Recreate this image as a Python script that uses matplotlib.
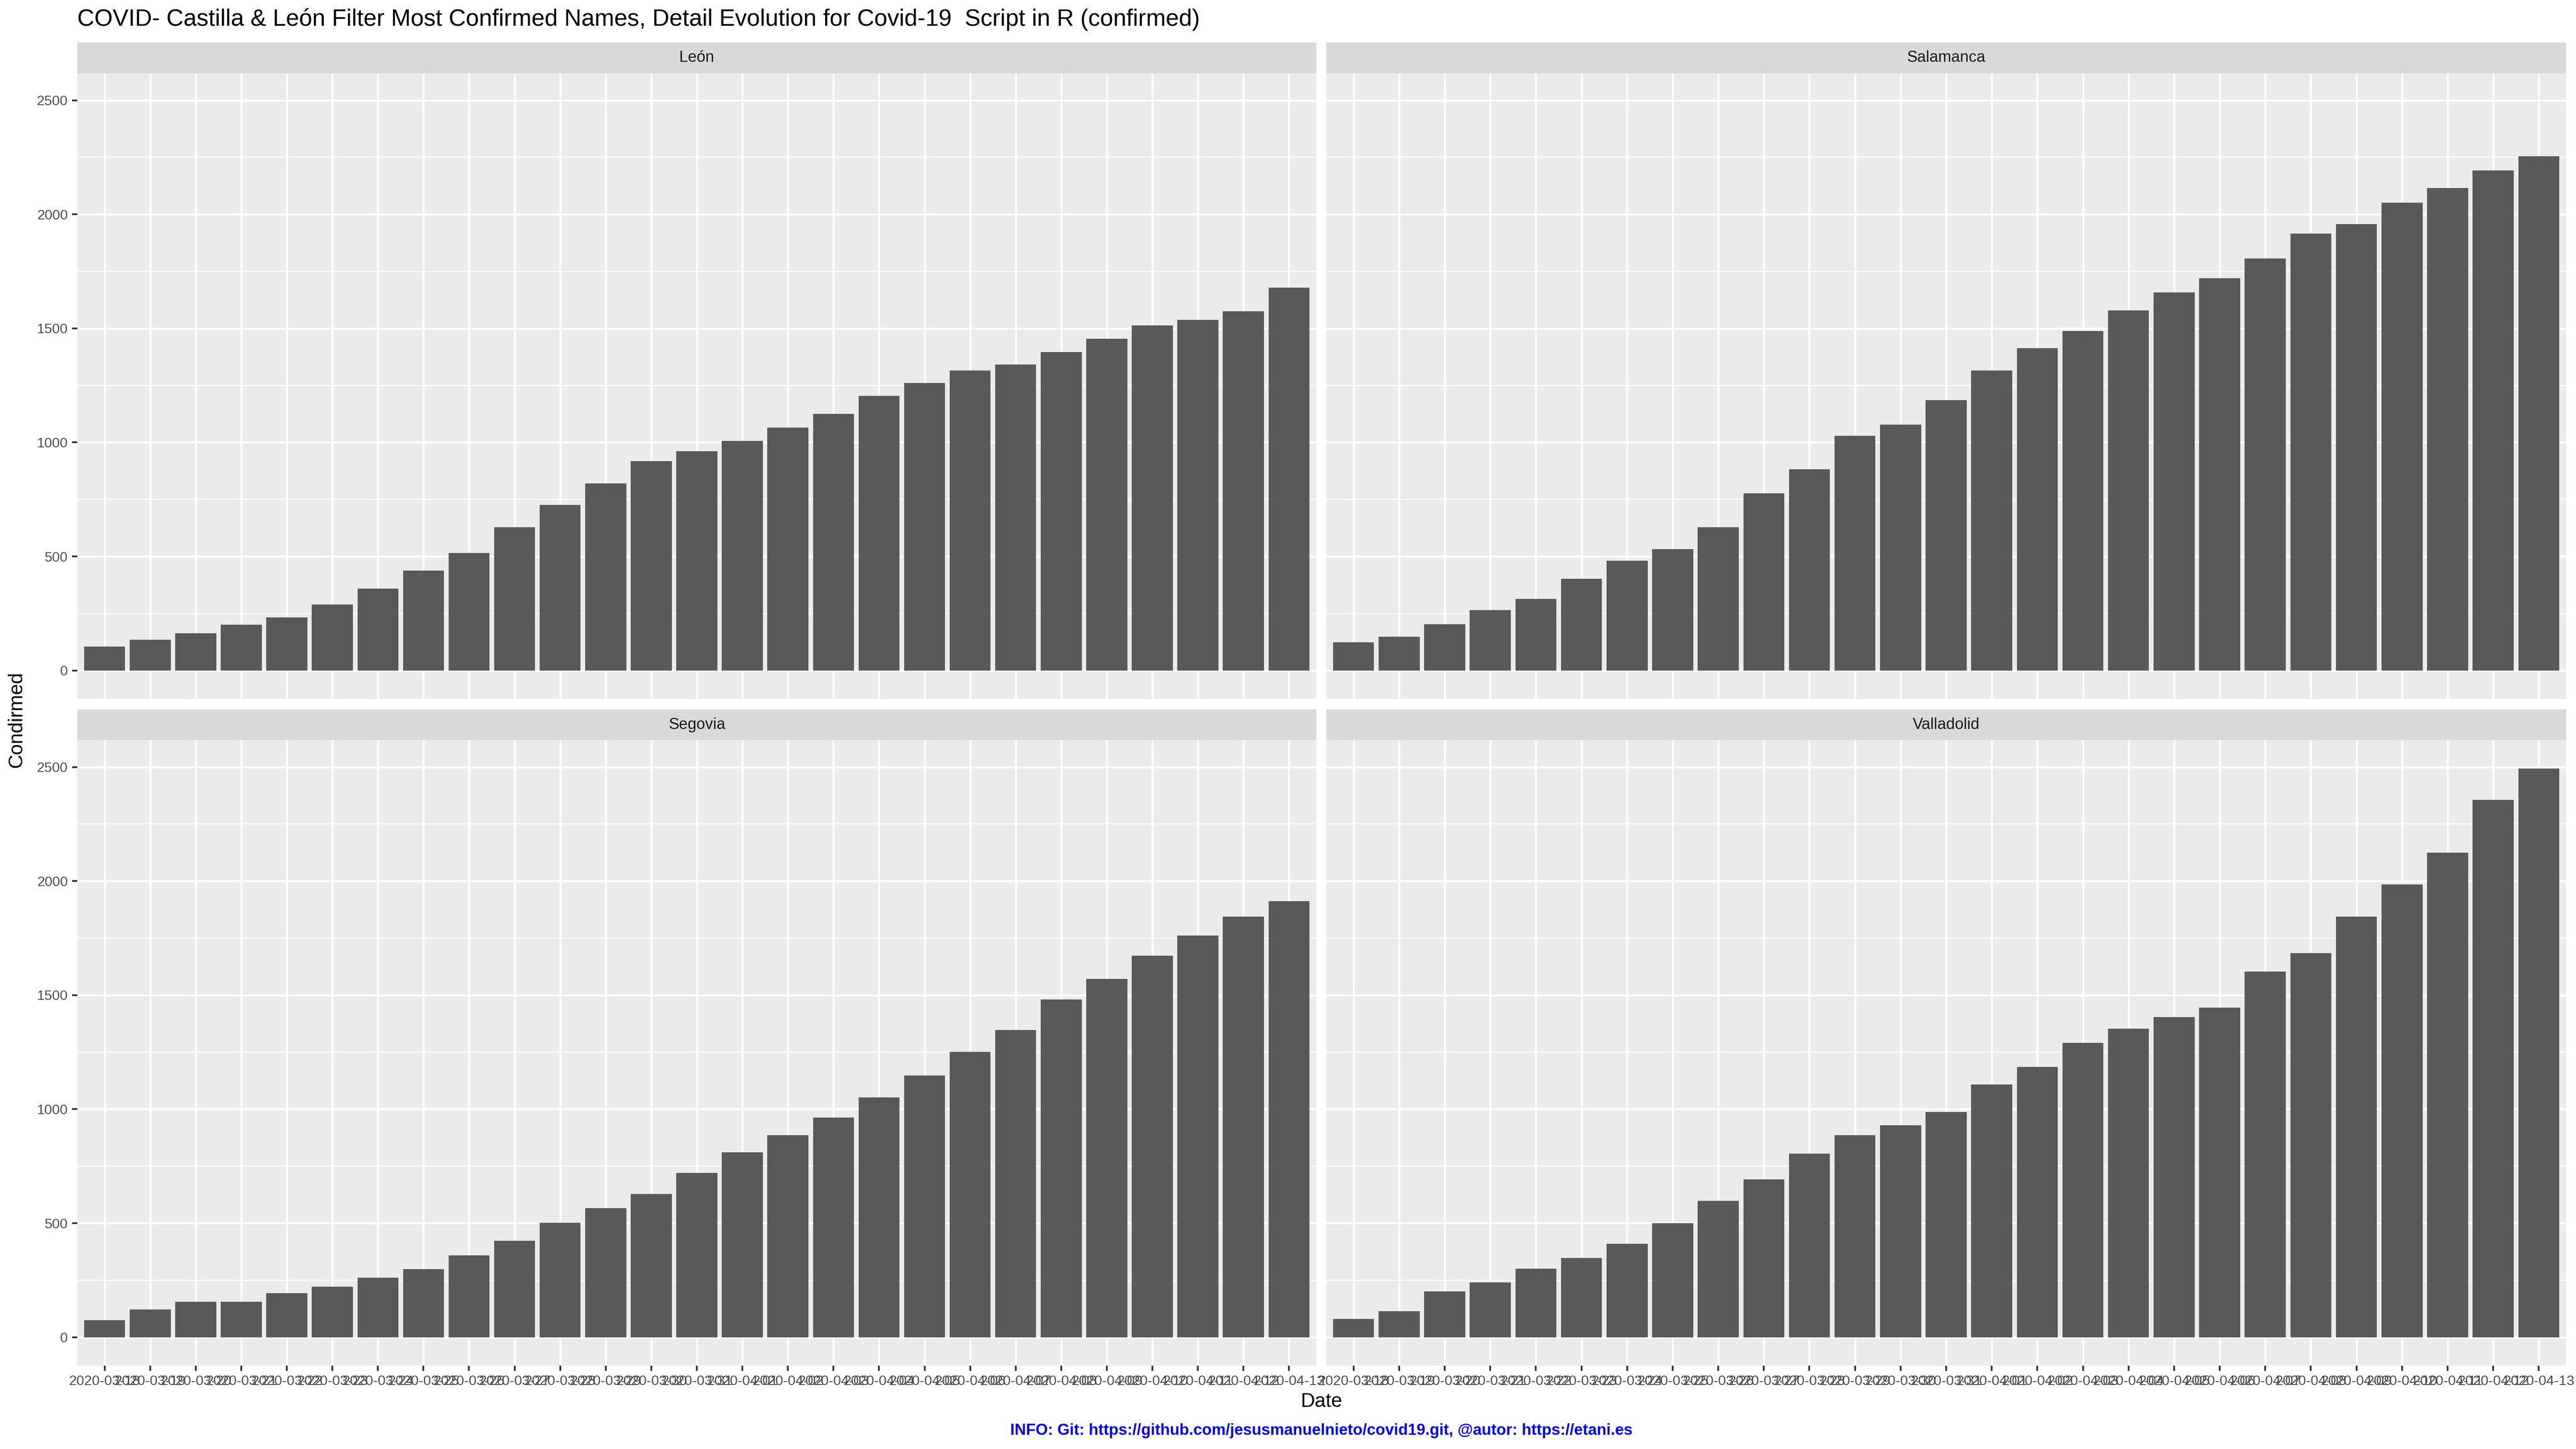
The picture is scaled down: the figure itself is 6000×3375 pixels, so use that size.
import matplotlib
matplotlib.use('Agg')
import matplotlib.pyplot as plt
from matplotlib.ticker import MultipleLocator

plt.rcParams['font.family'] = ['Liberation Sans', 'DejaVu Sans']

# fechas (eje x, discreto)
fechas = ['2020-03-18', '2020-03-19', '2020-03-20', '2020-03-21', '2020-03-22',
          '2020-03-23', '2020-03-24', '2020-03-25', '2020-03-26', '2020-03-27',
          '2020-03-28', '2020-03-29', '2020-03-30', '2020-03-31', '2020-04-01',
          '2020-04-02', '2020-04-03', '2020-04-04', '2020-04-05', '2020-04-06',
          '2020-04-07', '2020-04-08', '2020-04-09', '2020-04-10', '2020-04-11',
          '2020-04-12', '2020-04-13']

provincias = ['León', 'Salamanca', 'Segovia', 'Valladolid']

# confirmados por provincia
leon = [105, 135, 163, 201, 233, 289, 360, 439, 515, 629, 726, 820, 918, 962,
        1007, 1065, 1126, 1204, 1261, 1316, 1342, 1397, 1454, 1513, 1538, 1575, 1678]
salamanca = [124, 149, 202, 265, 314, 403, 481, 533, 629, 776, 882, 1030, 1078, 1186,
             1316, 1413, 1488, 1578, 1658, 1719, 1806, 1916, 1957, 2051, 2115, 2193, 2255]
segovia = [75, 121, 156, 156, 194, 222, 261, 298, 360, 423, 502, 566, 629, 721,
           810, 886, 964, 1051, 1147, 1252, 1348, 1481, 1571, 1673, 1761, 1845, 1912]
valladolid = [80, 114, 201, 240, 300, 348, 410, 501, 598, 692, 806, 886, 929, 987,
              1108, 1186, 1291, 1353, 1403, 1445, 1603, 1685, 1845, 1985, 2124, 2356, 2493]

series = [leon, salamanca, segovia, valladolid]

W, H = 6000, 3375
fig = plt.figure(figsize=(20, 11.25), dpi=300)

# posiciones de los paneles en pixeles (x0, x1), (y0, y1)
cols = [(180, 3066), (3089, 5977)]
rows = [(171, 1628), (1724, 3181)]
strip_h = 72

ymax = max(max(s) for s in series)
ylim = (-0.05 * ymax, 1.05 * ymax)

for i, (nombre, valores) in enumerate(zip(provincias, series)):
    r, c = divmod(i, 2)
    x0, x1 = cols[c]
    y0, y1 = rows[r]
    ax = fig.add_axes([x0 / W, 1 - y1 / H, (x1 - x0) / W, (y1 - y0) / H])
    ax.set_facecolor('#EBEBEB')
    ax.bar(range(len(fechas)), valores, width=0.9, color='#595959', zorder=2)
    ax.set_xlim(-0.6, len(fechas) - 0.4)
    ax.set_ylim(*ylim)
    ax.yaxis.set_major_locator(MultipleLocator(500))
    ax.yaxis.set_minor_locator(MultipleLocator(250))
    ax.set_xticks(range(len(fechas)))
    ax.grid(which='major', color='white', linewidth=1.08, zorder=1)
    ax.grid(which='minor', axis='y', color='white', linewidth=0.54, zorder=1)
    ax.set_axisbelow(True)
    for s in ax.spines.values():
        s.set_visible(False)
    ax.tick_params(which='minor', length=0)
    ax.tick_params(which='major', length=2.9, width=1.0, color='#333333',
                   labelcolor='#4D4D4D', labelsize=7.8, pad=2.4)
    if r == 1:
        ax.set_xticklabels(fechas)
    else:
        ax.tick_params(axis='x', length=0, labelbottom=False)
    if c == 1:
        ax.tick_params(axis='y', length=0, labelleft=False)

    # tira con el nombre de la provincia
    sax = fig.add_axes([x0 / W, 1 - y0 / H, (x1 - x0) / W, strip_h / H])
    sax.set_facecolor('#D9D9D9')
    sax.set_xticks([])
    sax.set_yticks([])
    for s in sax.spines.values():
        s.set_visible(False)
    sax.text(0.5, 0.5, nombre, ha='center', va='center', fontsize=8.8, color='#1A1A1A',
             transform=sax.transAxes)

fig.text(180 / W, 1 - 46 / H, 'COVID- Castilla & León Filter Most Confirmed Names, Detail Evolution for Covid-19  Script in R (confirmed)',
         ha='left', va='center', fontsize=13.2, color='black')
fig.text(3078 / W, 1 - 3265 / H, 'Date', ha='center', va='center', fontsize=11)
fig.text(39 / W, 1 - 1676 / H, 'Condirmed', ha='center', va='center', rotation=90, fontsize=11)
fig.text(3078 / W, 1 - 3333 / H,
         'INFO: Git: https://github.com/jesusmanuelnieto/covid19.git, @autor: https://etani.es',
         ha='center', va='center', fontsize=8.8, color='blue', fontweight='bold')

fig.savefig('out.png', dpi=300, facecolor='white')
